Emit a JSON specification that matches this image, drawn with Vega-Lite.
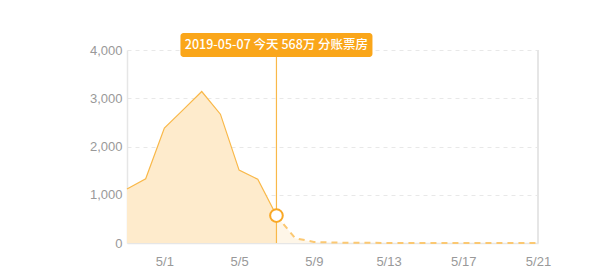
{
  "$schema": "https://vega.github.io/schema/vega-lite/v6.json",
  "autosize": "none",
  "width": 411,
  "height": 193,
  "padding": {"left": 127, "top": 50, "right": 62, "bottom": 30},
  "background": "#ffffff",
  "config": {
    "view": {"stroke": null},
    "font": "Liberation Sans",
    "axis": {
      "labelColor": "#999999",
      "labelFontSize": 13,
      "labelFont": "Liberation Sans",
      "ticks": false,
      "tickSize": 0,
      "title": null,
      "domainColor": "#e6e6e6",
      "domainWidth": 1.5
    }
  },
  "data": {
    "values": [
      {"date": "2019/04/29", "boxoffice": 1120},
      {"date": "2019/04/30", "boxoffice": 1330},
      {"date": "2019/05/01", "boxoffice": 2380},
      {"date": "2019/05/02", "boxoffice": 2760},
      {"date": "2019/05/03", "boxoffice": 3140},
      {"date": "2019/05/04", "boxoffice": 2670},
      {"date": "2019/05/05", "boxoffice": 1510},
      {"date": "2019/05/06", "boxoffice": 1320},
      {"date": "2019/05/07", "boxoffice": 568},
      {"date": "2019/05/08", "boxoffice": 100},
      {"date": "2019/05/09", "boxoffice": 22},
      {"date": "2019/05/10", "boxoffice": 9},
      {"date": "2019/05/11", "boxoffice": 5},
      {"date": "2019/05/12", "boxoffice": 3},
      {"date": "2019/05/13", "boxoffice": 2},
      {"date": "2019/05/14", "boxoffice": 2},
      {"date": "2019/05/15", "boxoffice": 1},
      {"date": "2019/05/16", "boxoffice": 1},
      {"date": "2019/05/17", "boxoffice": 1},
      {"date": "2019/05/18", "boxoffice": 1},
      {"date": "2019/05/19", "boxoffice": 0},
      {"date": "2019/05/20", "boxoffice": 0},
      {"date": "2019/05/21", "boxoffice": 0}
    ]
  },
  "encoding": {
    "x": {
      "field": "date",
      "type": "temporal",
      "scale": {
        "domain": [
          {"year": 2019, "month": 4, "date": 29},
          {"year": 2019, "month": 5, "date": 21}
        ]
      },
      "axis": {
        "format": "%-m/%-d",
        "labelPadding": 12,
        "labelFlush": false,
        "labelBound": false,
        "labelOverlap": false,
        "grid": false,
        "values": [
          {"year": 2019, "month": 5, "date": 1},
          {"year": 2019, "month": 5, "date": 5},
          {"year": 2019, "month": 5, "date": 9},
          {"year": 2019, "month": 5, "date": 13},
          {"year": 2019, "month": 5, "date": 17},
          {"year": 2019, "month": 5, "date": 21}
        ]
      }
    },
    "y": {
      "field": "boxoffice",
      "type": "quantitative",
      "scale": {"domain": [0, 4000], "nice": false},
      "axis": {
        "values": [0, 1000, 2000, 3000, 4000],
        "format": ",d",
        "labelPadding": 5,
        "grid": true,
        "gridColor": "#e8e8e8",
        "gridDash": [4, 4],
        "gridWidth": 1
      }
    }
  },
  "layer": [
    {
      "transform": [{"filter": {"field": "date", "lte": {"year": 2019, "month": 5, "date": 7}}}],
      "mark": {"type": "area", "color": "#feebcc", "opacity": 1}
    },
    {
      "transform": [{"filter": {"field": "date", "gte": {"year": 2019, "month": 5, "date": 7}}}],
      "mark": {"type": "area", "color": "#fef6e8", "opacity": 1}
    },
    {
      "transform": [{"filter": {"field": "date", "lte": {"year": 2019, "month": 5, "date": 7}}}],
      "mark": {"type": "line", "color": "#f9b849", "strokeWidth": 1.2}
    },
    {
      "transform": [{"filter": {"field": "date", "gte": {"year": 2019, "month": 5, "date": 7}}}],
      "mark": {"type": "line", "color": "#fbc872", "strokeWidth": 2, "strokeDash": [6, 5]}
    },
    {
      "mark": {"type": "rule", "color": "#e6e6e6", "strokeWidth": 1.5},
      "encoding": {
        "x": {"datum": {"year": 2019, "month": 5, "date": 21}, "type": "temporal"},
        "y": {"datum": 0},
        "y2": {"datum": 4000}
      }
    },
    {
      "transform": [{"filter": {"field": "date", "equal": {"year": 2019, "month": 5, "date": 7}}}],
      "mark": {"type": "rule", "color": "#f9b849", "strokeWidth": 1.2},
      "encoding": {
        "y": {"datum": 0},
        "y2": {"datum": 4000}
      }
    },
    {
      "transform": [{"filter": {"field": "date", "equal": {"year": 2019, "month": 5, "date": 7}}}],
      "mark": {
        "type": "rect",
        "color": "#faa61a",
        "cornerRadius": 3,
        "xOffset": -96,
        "x2Offset": 96,
        "yOffset": -17,
        "y2Offset": 7
      },
      "encoding": {
        "x2": {"field": "date"},
        "y": {"datum": 4000},
        "y2": {"datum": 4000}
      }
    },
    {
      "transform": [
        {"filter": {"field": "date", "equal": {"year": 2019, "month": 5, "date": 7}}},
        {"calculate": "timeFormat(datum.date, '%Y-%m-%d') + ' 今天 ' + datum.boxoffice + '万 分账票房'", "as": "tip"}
      ],
      "mark": {
        "type": "text",
        "color": "#ffffff",
        "font": "Noto Sans CJK SC",
        "fontSize": 12.5,
        "fontWeight": 500,
        "align": "center",
        "baseline": "middle",
        "yOffset": -5
      },
      "encoding": {
        "y": {"datum": 4000},
        "text": {"field": "tip"}
      }
    },
    {
      "transform": [{"filter": {"field": "date", "equal": {"year": 2019, "month": 5, "date": 7}}}],
      "mark": {
        "type": "point",
        "shape": "circle",
        "filled": true,
        "fill": "#ffffff",
        "stroke": "#f9a825",
        "strokeWidth": 2,
        "size": 160,
        "opacity": 1
      }
    }
  ]
}
